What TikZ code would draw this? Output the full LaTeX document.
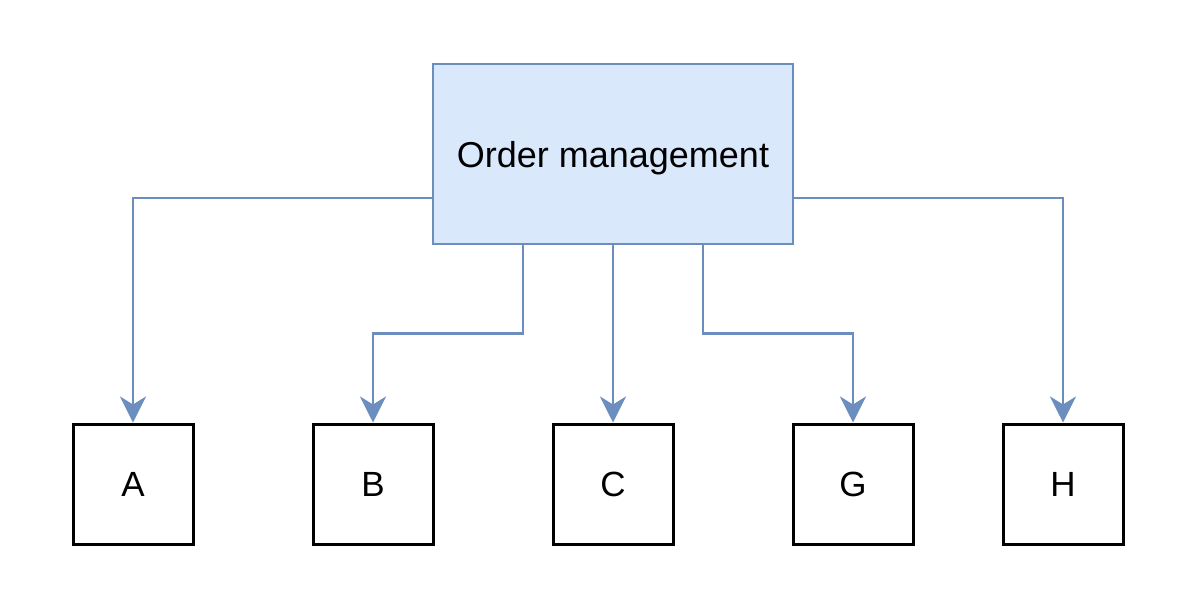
\documentclass[tikz,border=0pt]{standalone}
\usepackage{fontspec}
\setmainfont{Liberation Sans}
\usetikzlibrary{arrows.meta}
\definecolor{boxfill}{HTML}{DAE8FC}
\definecolor{boxline}{HTML}{6C8EBF}
\begin{document}
\begin{tikzpicture}[x=1pt,y=-1pt,
  top/.style={draw=boxline,fill=boxfill,line width=2.4pt,minimum width=360pt,minimum height=180pt,inner sep=0pt,font=\fontsize{36}{42}\selectfont},
  leaf/.style={draw=black,line width=3pt,minimum width=120pt,minimum height=120pt,inner sep=0pt,font=\fontsize{35}{42}\selectfont},
  link/.style={draw=boxline,line width=2.8pt,-{Stealth[length=26pt,width=26pt,inset=8pt]}}]
\useasboundingbox(0,0)rectangle(1190,600);
\node[top](om)at(613,154){\raisebox{-4pt}[\height][\depth]{Order management}};
\node[leaf](a)at(133,484){A};
\node[leaf](b)at(373,484){B};
\node[leaf](c)at(613,484){C};
\node[leaf](g)at(853,484){G};
\node[leaf](h)at(1063,484){H};

\draw[link]([yshift=-44pt]om.west)-|(a.north);
\draw[link]([xshift=-90pt]om.south)--++(0,88)-|(b.north);
\draw[link](om.south)--(c.north);
\draw[link]([xshift=90pt]om.south)--++(0,88)-|(g.north);
\draw[link]([yshift=-44pt]om.east)-|(h.north);

\end{tikzpicture}
\end{document}
